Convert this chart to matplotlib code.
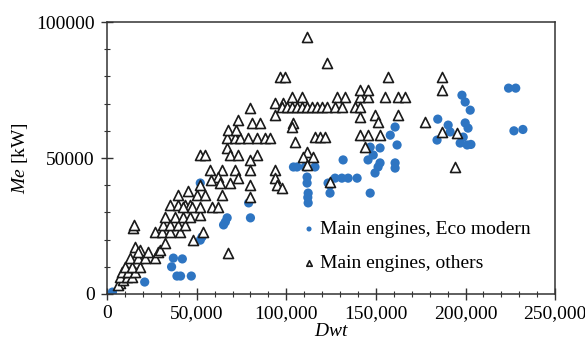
import numpy as np
import matplotlib
matplotlib.use("Agg")
import matplotlib.pyplot as plt
from matplotlib.ticker import MultipleLocator, FuncFormatter

plt.rcParams['font.family'] = ['Liberation Serif', 'DejaVu Serif']
plt.rcParams['mathtext.fontset'] = 'custom'
plt.rcParams['mathtext.it'] = 'Liberation Serif:italic'
plt.rcParams['mathtext.rm'] = 'Liberation Serif'

# Main engines, Eco modern (Dwt, kW)
eco_dwt = [3000, 21000, 39000, 41000, 47000, 36000, 37000, 42000, 52000, 53000,
           65000, 67000, 66000, 80000, 79000, 52000, 104000, 106000, 110500, 116000,
           111600, 111600, 112200, 112200, 112000, 123300, 124400, 124400,
           127200, 131000, 134500, 139500, 131700,
           145600, 146800, 148500, 152300, 152300, 149500, 151200, 146800,
           158000, 160700, 161800, 160700, 160700,
           184500, 190300, 191400, 184100, 198000, 199800, 202600,
           199800, 201400, 198700, 197000, 200900, 203000,
           224000, 228000, 227000, 232000]
eco_me = [700, 4400, 6600, 6600, 6600, 10000, 13200, 12900, 19800, 21000,
          25400, 28000, 26500, 28000, 33500, 40800, 46700, 46700, 46700, 46700,
          43000, 40800, 37100, 33500, 35500, 40800, 37100, 40000,
          42600, 42600, 42600, 42600, 49300,
          49300, 54000, 51100, 53700, 48200, 44500, 46700, 37100,
          58400, 61400, 54800, 48200, 46300,
          64300, 62100, 59600, 56600, 73100, 70600, 67600,
          62900, 61000, 57700, 55500, 54800, 55000,
          75700, 75700, 60000, 60500]

# Main engines, others (Dwt, kW)
oth_dwt = [7300, 6100, 9000, 7300, 11200, 14000, 8400, 11700, 15600,
           10000, 14000, 18400, 12800, 17300, 21200, 26800, 15600, 18400,
           17300, 22900, 28500, 29600, 32400, 26800, 30700, 35200, 40700,
           31200, 35200, 39600, 43500, 32400, 37900, 42400, 46300,
           51900, 48000, 53600, 14500, 15000,
           35000, 39600, 43500, 46300, 42400, 47400, 51900, 58600, 61900,
           39600, 50200, 54700, 64200,
           57500, 64200, 71400, 62000, 63100, 68600, 73100,
           52000, 54700, 67000, 68600, 73100,
           67000, 71400, 74200, 78700, 83700, 88200, 91000,
           67500, 72000, 73100, 80900, 85400, 79800,
           93800, 98200, 93800, 83700, 79800, 79800,
           93800, 93800, 95000, 79800, 79800, 97600, 67500,
           52000, 45000, 58000,
           96500, 99300, 111600, 122700, 156800, 187000, 187000,
           103000, 108800, 128300, 132800, 141200, 145600, 155100, 162400, 166300,
           97600, 100400, 103200, 106000, 108800, 111600, 114400, 117200,
           120000, 122700, 127200, 131100, 138400, 141200,
           141200, 145600, 162400, 141200, 149500, 151200,
           103800, 103200, 177400, 104900, 116000, 118900, 121600,
           141200, 145600, 152300, 144000, 187000, 195300, 194200,
           111600, 109400, 115000, 111600, 124400]
oth_me = [4000, 3300, 5000, 6200, 6200, 6200, 8100, 8100, 8100,
          9900, 9900, 9900, 13200, 13200, 13200, 13200, 17300, 16200,
          15400, 15400, 15400, 16200, 18700, 22800, 22800, 22800, 22800,
          25400, 25400, 25400, 25400, 28300, 28300, 28300, 28300,
          29000, 19800, 22800, 24300, 25500,
          32700, 32700, 32700, 32700, 32000, 32000, 32000, 32000, 32000,
          36400, 36400, 36400, 36400,
          45600, 45600, 45600, 43000, 40800, 40800, 42600,
          51100, 51100, 53700, 51100, 51100,
          57300, 57300, 57300, 57300, 57300, 57300, 57300,
          60300, 60300, 64000, 62900, 62900, 68400,
          70200, 70200, 65800, 51100, 49300, 45600,
          45600, 42600, 40100, 40100, 35700, 38900, 15100,
          40000, 38000, 42000,
          79800, 79800, 94500, 84900, 79800, 79800, 75000,
          72400, 72400, 72400, 72400, 72400, 72400, 72400, 72400, 72400,
          68700, 68700, 68700, 68700, 68700, 68700, 68700, 68700,
          68700, 68700, 68700, 68700, 68700, 68700,
          75000, 75000, 65800, 65100, 65800, 63200,
          62900, 61400, 63200, 55900, 57700, 57700, 57700,
          58400, 58400, 58400, 54000, 59600, 59200, 46700,
          52200, 50300, 50300, 47400, 41200]

fig = plt.figure(figsize=(5.85, 3.5), dpi=100)
ax = fig.add_axes([0.183, 0.16, 0.766, 0.777])

ax.scatter(eco_dwt, eco_me, s=44, color='#2e75c2', edgecolors='none',
           label='Main engines, Eco modern', zorder=2)
ax.scatter(oth_dwt, oth_me, s=52, marker='^', facecolors='white',
           edgecolors='#1a1a1a', linewidths=1.2,
           label='Main engines, others', zorder=3)

ax.set_xlim(0, 250000)
ax.set_ylim(0, 100000)
ax.xaxis.set_major_locator(MultipleLocator(50000))
ax.xaxis.set_minor_locator(MultipleLocator(10000))
ax.yaxis.set_major_locator(MultipleLocator(50000))
ax.yaxis.set_minor_locator(MultipleLocator(10000))
ax.xaxis.set_major_formatter(FuncFormatter(lambda v, p: f'{int(v):,}'))
ax.yaxis.set_major_formatter(FuncFormatter(lambda v, p: f'{int(v)}'))
ax.tick_params(which='major', direction='inout', length=8, width=1,
               labelsize=14, color='#333333',
               labelfontfamily='Liberation Serif')
ax.tick_params(which='minor', direction='inout', length=5, width=0.8,
               color='#333333')
ax.tick_params(axis='x', pad=4)
ax.tick_params(axis='y', pad=5)
for sp in ax.spines.values():
    sp.set_color('#333333')
    sp.set_linewidth(1.1)

ax.set_xlabel(r'$\it{Dwt}$', fontsize=14, labelpad=1)
ax.set_ylabel(r'$\it{Me}$ [kW]', fontsize=14, labelpad=4)

leg = ax.legend(loc='lower right', bbox_to_anchor=(0.975, 0.03), frameon=False,
                fontsize=14, handletextpad=0.05, markerscale=0.55,
                borderaxespad=0.3, labelspacing=0.85, handlelength=1.0)

fig.savefig('out.png', dpi=100)
